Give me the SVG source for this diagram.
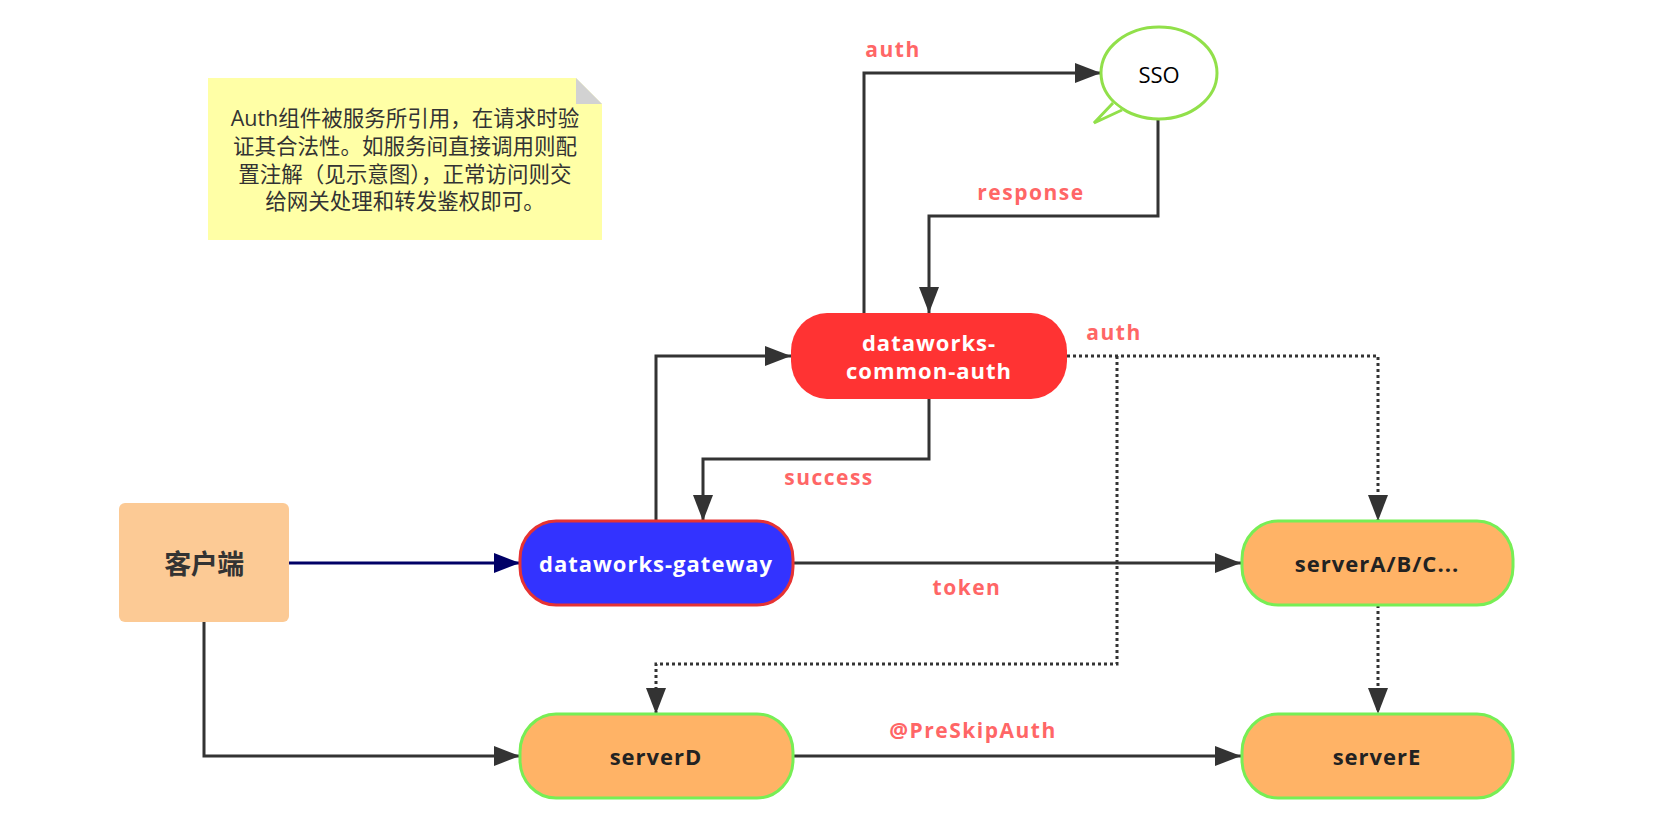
<svg xmlns="http://www.w3.org/2000/svg" width="1670" height="836" viewBox="0 0 1670 836">
  <style>
    .lbl { font-family: "Open Sans", "Liberation Sans", sans-serif; font-weight: bold; font-size: 21px; fill: #ff6666; text-anchor: middle; letter-spacing: 1.5px; }
    .node-text { font-family: "Open Sans", "Liberation Sans", "Noto Sans CJK SC", sans-serif; font-weight: bold; font-size: 22px; text-anchor: middle; dominant-baseline: central; letter-spacing: 1px; }
    .edge { fill: none; stroke: #333333; stroke-width: 3; }
    .dot { stroke-dasharray: 3 3; }
    .server { fill: #ffb366; stroke: #77ee55; stroke-width: 3; }
  </style>
  <defs>
    <marker id="arrow" markerUnits="userSpaceOnUse" markerWidth="28" markerHeight="20" refX="26" refY="10" orient="auto">
      <path d="M0,0 L26,10 L0,20 Z" fill="#333333"/>
    </marker>
    <marker id="arrow-navy" markerUnits="userSpaceOnUse" markerWidth="28" markerHeight="20" refX="26" refY="10" orient="auto">
      <path d="M0,0 L26,10 L0,20 Z" fill="#000066"/>
    </marker>
  </defs>

  <rect width="1670" height="836" fill="#ffffff"/>

  <!-- note with folded corner -->
  <g id="note">
    <path d="M208,78 L576,78 L602,104 L602,240 L208,240 Z" fill="#ffffa6"/>
    <path d="M576,78 L602,104 L576,104 Z" fill="#d2d2d2"/>
    <g font-family="'Open Sans', 'Noto Sans CJK SC', sans-serif" font-size="21.5" fill="#333333" text-anchor="middle">
      <text x="405" y="126">Auth组件被服务所引用，在请求时验</text>
      <text x="405" y="154">证其合法性。如服务间直接调用则配</text>
      <text x="405" y="182">置注解（见示意图），正常访问则交</text>
      <text x="405" y="209">给网关处理和转发鉴权即可。</text>
    </g>
  </g>

  <!-- connectors -->
  <g id="connectors">
    <path class="edge" d="M864,313 L864,73 L1101,73" marker-end="url(#arrow)"/>
    <path class="edge" d="M1158,119 L1158,216 L929,216 L929,313" marker-end="url(#arrow)"/>
    <path class="edge" d="M656,521 L656,356 L791,356" marker-end="url(#arrow)"/>
    <path class="edge" d="M929,399 L929,459 L703,459 L703,521" marker-end="url(#arrow)"/>
    <path class="edge" d="M289,563 L520,563" style="stroke:#000066" marker-end="url(#arrow-navy)"/>
    <path class="edge" d="M792,563 L1241,563" marker-end="url(#arrow)"/>
    <path class="edge dot" d="M1067,356 L1378,356 L1378,521" marker-end="url(#arrow)"/>
    <path class="edge dot" d="M1117,356 L1117,664 L656,664 L656,714" marker-end="url(#arrow)"/>
    <path class="edge dot" d="M1378,605 L1378,714" marker-end="url(#arrow)"/>
    <path class="edge" d="M204,622 L204,756 L520,756" marker-end="url(#arrow)"/>
    <path class="edge" d="M792,756 L1241,756" marker-end="url(#arrow)"/>

    <text class="lbl" x="893" y="57">auth</text>
    <text class="lbl" x="1031" y="200">response</text>
    <text class="lbl" x="829" y="485">success</text>
    <text class="lbl" x="1114" y="340">auth</text>
    <text class="lbl" x="967" y="595">token</text>
    <text class="lbl" x="973" y="738">@PreSkipAuth</text>
  </g>

  <!-- SSO speech bubble -->
  <g id="sso">
    <ellipse cx="1159" cy="73" rx="58" ry="46" fill="#ffffff" stroke="#91e04a" stroke-width="3"/>
    <path d="M1113,103 L1094,123 L1122,110" fill="#ffffff" stroke="#91e04a" stroke-width="3" stroke-linejoin="miter"/>
    <text x="1159" y="74" font-family="'Open Sans', 'Liberation Sans', sans-serif" font-size="22" fill="#000000" text-anchor="middle" dominant-baseline="central">SSO</text>
  </g>

  <g id="common-auth">
    <rect x="791" y="313" width="276" height="86" rx="36" ry="38" fill="#ff3333"/>
    <text class="node-text" x="929" y="342" fill="#ffffff">dataworks-</text>
    <text class="node-text" x="929" y="370" fill="#ffffff">common-auth</text>
  </g>

  <g id="client">
    <rect x="119" y="503" width="170" height="119" rx="6" fill="#fcca95"/>
    <text class="node-text" x="204" y="563" fill="#333333" style="font-size:27px;letter-spacing:-0.5px">客户端</text>
  </g>

  <g id="gateway">
    <rect x="520" y="521" width="273" height="84" rx="36" ry="38" fill="#3333ff" stroke="#e63333" stroke-width="3"/>
    <text class="node-text" x="656" y="563" fill="#ffffff">dataworks-gateway</text>
  </g>

  <g id="serverABC">
    <rect class="server" x="1242" y="521" width="271" height="84" rx="36" ry="38"/>
    <text class="node-text" x="1377" y="563" fill="#222222">serverA/B/C...</text>
  </g>

  <g id="serverD">
    <rect class="server" x="520" y="714" width="273" height="84" rx="36" ry="38"/>
    <text class="node-text" x="656" y="756" fill="#222222">serverD</text>
  </g>

  <g id="serverE">
    <rect class="server" x="1242" y="714" width="271" height="84" rx="36" ry="38"/>
    <text class="node-text" x="1377" y="756" fill="#222222">serverE</text>
  </g>
</svg>
